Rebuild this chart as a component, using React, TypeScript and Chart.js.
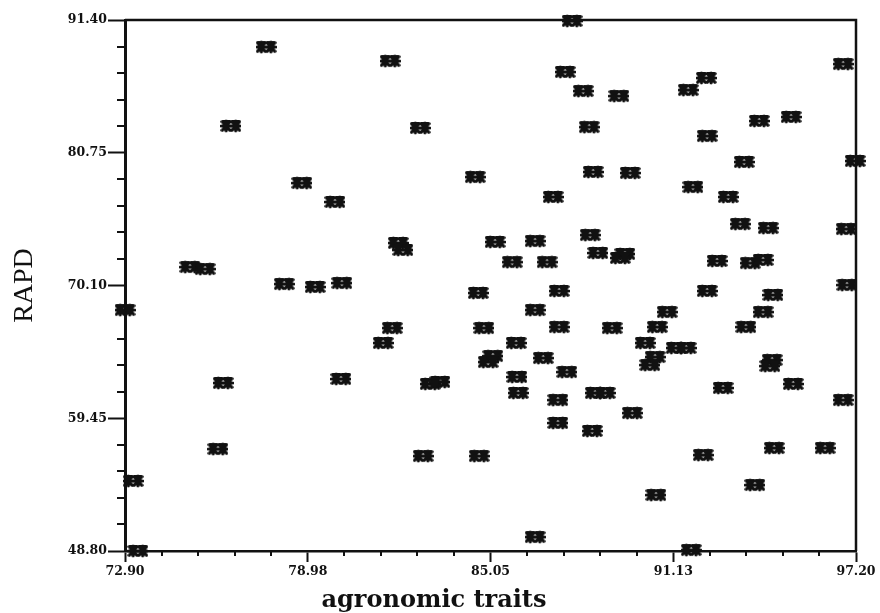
import React, { useEffect, useRef } from "react";
import { Chart, registerables } from "chart.js";

Chart.register(...registerables);

// agronomic traits (x) and RAPD (y) similarity coefficients for each pair
const agronomicTraits = [
  77.59, 76.42, 78.78, 79.88, 75.06, 75.56, 78.19, 79.22, 80.11, 81.71,
  82.71, 84.54, 81.98, 82.14, 87.76, 87.53, 88.13, 89.32, 88.33, 88.46,
  89.69, 87.13, 91.62, 92.22, 92.25, 93.98, 95.04, 96.77, 93.48, 97.17,
  91.78, 92.95, 93.35, 94.28, 96.87, 85.20, 86.53, 85.77, 86.93, 88.36,
  88.62, 89.52, 89.36, 92.58, 93.68, 94.11, 72.90, 84.64, 87.33, 92.25,
  94.44, 96.90, 86.53, 81.78, 81.48, 84.83, 87.33, 85.90, 85.13, 84.97,
  86.80, 87.59, 89.09, 90.92, 94.11, 90.59, 93.54, 90.19, 91.22, 91.55,
  90.52, 90.35, 94.41, 94.34, 80.08, 83.04, 83.37, 85.93, 85.97, 87.29,
  87.29, 88.53, 88.86, 89.76, 88.43, 92.78, 95.11, 96.77, 76.16, 75.99,
  82.81, 84.67, 92.12, 94.48, 96.17, 93.84, 90.55, 73.17, 73.33, 86.53,
  91.72,
];

const rapd = [
  89.23, 82.90, 78.32, 76.80, 71.58, 71.42, 70.22, 69.98, 70.30, 88.11,
  82.74, 78.80, 73.51, 72.95, 91.32, 87.23, 85.70, 85.30, 82.81, 79.21,
  79.13, 77.20, 85.78, 86.75, 82.09, 83.30, 83.62, 87.87, 80.01, 80.09,
  78.00, 77.20, 75.03, 74.71, 74.63, 73.59, 73.67, 71.98, 71.98, 74.15,
  72.71, 72.63, 72.31, 72.07, 71.90, 72.15, 68.13, 69.50, 69.66, 69.66,
  69.34, 70.14, 68.13, 66.69, 65.49, 66.69, 66.77, 65.49, 64.44, 63.96,
  64.28, 63.16, 66.69, 67.97, 67.97, 66.77, 66.77, 65.49, 65.09, 65.09,
  64.36, 63.72, 64.12, 63.64, 62.60, 62.20, 62.36, 62.76, 61.48, 60.91,
  59.07, 61.48, 61.48, 59.87, 58.43, 61.88, 62.20, 60.91, 62.28, 56.98,
  56.42, 56.42, 56.50, 57.06, 57.06, 54.09, 53.29, 54.42, 48.80, 49.92,
  48.88,
];

const xTicks = [72.9, 78.98, 85.05, 91.13, 97.2];
const yTicks = [48.8, 59.45, 70.1, 80.75, 91.4];

const xTitle = "agronomic traits";
const yTitle = "RAPD";

function makeMarker(): HTMLCanvasElement {
  const c = document.createElement("canvas");
  c.width = 21;
  c.height = 14;
  const g = c.getContext("2d")!;
  g.strokeStyle = "#111";
  g.lineWidth = 3.2;
  g.lineCap = "round";
  const star = (cx: number, cy: number) => {
    g.beginPath();
    g.moveTo(cx - 3.8, cy - 4.3);
    g.lineTo(cx + 3.8, cy + 4.3);
    g.moveTo(cx + 3.8, cy - 4.3);
    g.lineTo(cx - 3.8, cy + 4.3);
    g.moveTo(cx - 4.2, cy);
    g.lineTo(cx + 4.2, cy);
    g.moveTo(cx, cy - 4.8);
    g.lineTo(cx, cy + 4.8);
    g.moveTo(cx - 3.5, cy - 4.5);
    g.lineTo(cx + 3.5, cy - 4.5);
    g.stroke();
  };
  star(5.7, 7);
  star(15.3, 7);
  return c;
}

const frameAndMinorTicks = {
  id: "frameAndMinorTicks",
  afterDraw(chart: any) {
    const { ctx, chartArea, scales } = chart;
    const { left, right, top, bottom } = chartArea;
    ctx.save();
    ctx.strokeStyle = "#111";
    ctx.lineWidth = 2.5;
    ctx.beginPath();
    ctx.moveTo(left, top);
    ctx.lineTo(right, top);
    ctx.lineTo(right, bottom);
    ctx.stroke();

    ctx.lineWidth = 2;
    const ys = scales.y;
    for (let i = 0; i < yTicks.length - 1; i++) {
      for (let k = 1; k < 5; k++) {
        const v = yTicks[i] + ((yTicks[i + 1] - yTicks[i]) * k) / 5;
        const py = Math.round(ys.getPixelForValue(v));
        ctx.beginPath();
        ctx.moveTo(left - 8, py);
        ctx.lineTo(left, py);
        ctx.stroke();
      }
    }
    const xs = scales.x;
    for (let i = 0; i < xTicks.length - 1; i++) {
      for (let k = 1; k < 5; k++) {
        const v = xTicks[i] + ((xTicks[i + 1] - xTicks[i]) * k) / 5;
        const px = Math.round(xs.getPixelForValue(v));
        ctx.beginPath();
        ctx.moveTo(px, bottom);
        ctx.lineTo(px, bottom + 5);
        ctx.stroke();
      }
    }

    ctx.fillStyle = "#111";
    ctx.font = "bold 24px 'DejaVu Serif'";
    ctx.textAlign = "center";
    ctx.textBaseline = "alphabetic";
    ctx.fillText(xTitle, left + 309, 607);
    ctx.restore();
  },
};

export default function App() {
  const ref = useRef<HTMLCanvasElement | null>(null);

  useEffect(() => {
    document.body.style.margin = "0";
    const marker = makeMarker();
    const data = agronomicTraits.map((x, i) => ({ x, y: rapd[i] }));
    const chart = new Chart(ref.current!, {
      type: "scatter",
      data: {
        datasets: [
          {
            data,
            pointStyle: marker as any,
            pointRadius: 7,
            backgroundColor: "#111",
            borderColor: "#111",
            clip: false as any,
          },
        ],
      },
      options: {
        animation: false,
        responsive: false,
        devicePixelRatio: 1,
        layout: { padding: { top: 20, right: 24, left: 0, bottom: 0 } },
        plugins: { legend: { display: false }, tooltip: { enabled: false } },
        scales: {
          x: {
            type: "linear",
            min: xTicks[0],
            max: xTicks[xTicks.length - 1],
            afterBuildTicks: (s: any) => {
              s.ticks = xTicks.map((v) => ({ value: v }));
            },
            afterFit: (s: any) => {
              s.height = 62;
            },
            grid: {
              drawOnChartArea: false,
              drawTicks: true,
              tickLength: 11,
              tickWidth: 2,
              tickColor: "#111",
            },
            border: { display: true, color: "#111", width: 2.5 },
            ticks: {
              padding: 2,
              color: "#111",
              maxRotation: 0,
              autoSkip: false,
              font: { family: "'DejaVu Serif'", size: 12.5, weight: "bold" },
              callback: (v: any) => Number(v).toFixed(2),
            },
          },
          y: {
            type: "linear",
            min: yTicks[0],
            max: yTicks[yTicks.length - 1],
            afterBuildTicks: (s: any) => {
              s.ticks = yTicks.map((v) => ({ value: v }));
            },
            afterFit: (s: any) => {
              s.width = 125;
            },
            grid: {
              drawOnChartArea: false,
              drawTicks: true,
              tickLength: 17,
              tickWidth: 2,
              tickColor: "#111",
            },
            border: { display: true, color: "#111", width: 3 },
            ticks: {
              padding: 1,
              color: "#111",
              autoSkip: false,
              font: { family: "'DejaVu Serif'", size: 12.5, weight: "bold" },
              callback: (v: any) => Number(v).toFixed(2),
            },
            title: {
              display: true,
              text: yTitle,
              color: "#111",
              padding: { top: 8, bottom: 0 },
              font: { family: "'Liberation Serif'", size: 28, weight: "normal" },
            },
          },
        },
      },
      plugins: [frameAndMinorTicks],
    });
    return () => chart.destroy();
  }, []);

  return (
    <div style={{ position: "fixed", left: 0, top: 0, width: 880, height: 613, background: "#fff" }}>
      <canvas ref={ref} width={880} height={613} style={{ width: 880, height: 613, display: "block" }} />
    </div>
  );
}
